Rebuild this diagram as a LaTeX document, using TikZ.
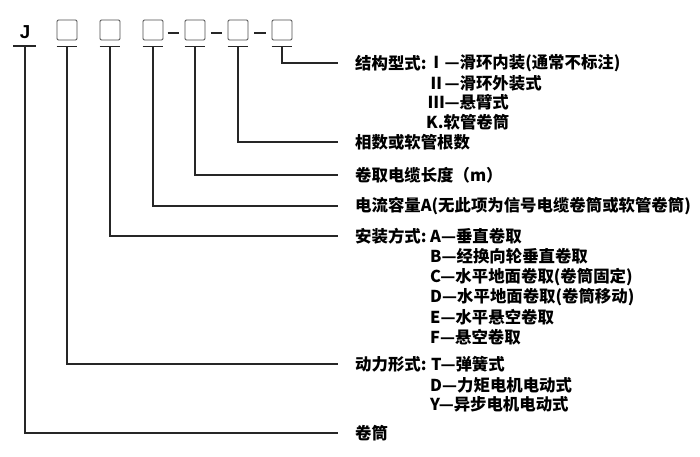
\documentclass[tikz,border=0pt]{standalone}
\usepackage{fontspec}
\setmainfont{Noto Sans CJK SC}
\newfontfamily\jfont{Liberation Sans}
\usetikzlibrary{calc}

\tikzset{
  codebox/.style={draw=black!70, line width=0.8pt, rounded corners=1pt,
    minimum size=0.6cm, inner sep=0pt},
  lead/.style={line width=1pt, draw=black!85},
  head/.style={anchor=west, inner xsep=0.51cm, inner ysep=0pt,
    font=\fontsize{14}{14}\selectfont\bfseries},
  item/.style={anchor=west, inner sep=0pt,
    font=\fontsize{14}{14}\selectfont\bfseries},
}

\begin{document}
\begin{tikzpicture}[x=0.03cm, y=-0.03cm]
\useasboundingbox (0,0) rectangle (700,457);
% code letter and boxes
\node[font=\fontsize{16}{16}\selectfont\jfont\bfseries] (j) at (25,32) {J};
\coordinate (u0) at (25,46);
\draw[lead] (u0) ++(-12,0) -- ++(23,0);
\node[codebox] (b1) at (67,30) {};
\node[codebox] (b2) at (110,30) {};
\node[codebox] (b3) at (153,30) {};
\node[codebox] (b4) at (195,30) {};
\node[codebox] (b5) at (238,30) {};
\node[codebox] (b6) at (282,30) {};
\draw[lead] ([yshift=-0.09cm]$(b3.east)!0.2!(b4.west)$) -- ([yshift=-0.09cm]$(b3.east)!0.72!(b4.west)$);
\draw[lead] ([yshift=-0.09cm]$(b4.east)!0.25!(b5.west)$) -- ([yshift=-0.09cm]$(b4.east)!0.75!(b5.west)$);
\draw[lead] ([yshift=-0.09cm]$(b5.east)!0.25!(b6.west)$) -- ([yshift=-0.09cm]$(b5.east)!0.75!(b6.west)$);
\foreach \b in {b1,b2,b3,b4,b5,b6}
  \draw[lead] ([yshift=-0.18cm]\b.south west) -- ([yshift=-0.18cm]\b.south east);

% explanations
\node[head] (struct) at (338,63) {结构型式:};
\node[item] (s1) at (428,63) {Ⅰ—滑环内装(通常不标注)};
\node[item] (s2) at (428,83) {Ⅱ—滑环外装式};
\node[item] (s3) at (428,102) {Ⅲ—悬臂式};
\node[item] (s4) at (426,122) {K.软管卷筒};
\node[head] (phase) at (338,142) {相数或软管根数};
\node[head] (length) at (338,175) {卷取电缆长度（m）};
\node[head] (current) at (338,206) {电流容量A(无此项为信号电缆卷筒或软管卷筒)};
\node[head] (mount) at (338,236) {安装方式:};
\node[item] (m1) at (430,236) {A—垂直卷取};
\node[item] (m2) at (430,256) {B—经换向轮垂直卷取};
\node[item] (m3) at (430,277) {C—水平地面卷取(卷筒固定)};
\node[item] (m4) at (430,297) {D—水平地面卷取(卷筒移动)};
\node[item] (m5) at (430,317) {E—水平悬空卷取};
\node[item] (m6) at (430,337) {F—悬空卷取};
\node[head] (power) at (338,364) {动力形式:};
\node[item] (p1) at (431,364) {T—弹簧式};
\node[item] (p2) at (430,385) {D—力矩电机电动式};
\node[item] (p3) at (430,404) {Y—异步电机电动式};
\node[head] (drum) at (338,433) {卷筒};

% leads
\draw[lead] (u0) |- (drum.west);
\draw[lead] ([yshift=-0.18cm]b1.south) |- (power.west);
\draw[lead] ([yshift=-0.18cm]b2.south) |- (mount.west);
\draw[lead] ([yshift=-0.18cm]b3.south) |- (current.west);
\draw[lead] ([yshift=-0.18cm]b4.south) |- (length.west);
\draw[lead] ([yshift=-0.18cm]b5.south) |- (phase.west);
\draw[lead] ([yshift=-0.18cm]b6.south) |- (struct.west);
\end{tikzpicture}
\end{document}
